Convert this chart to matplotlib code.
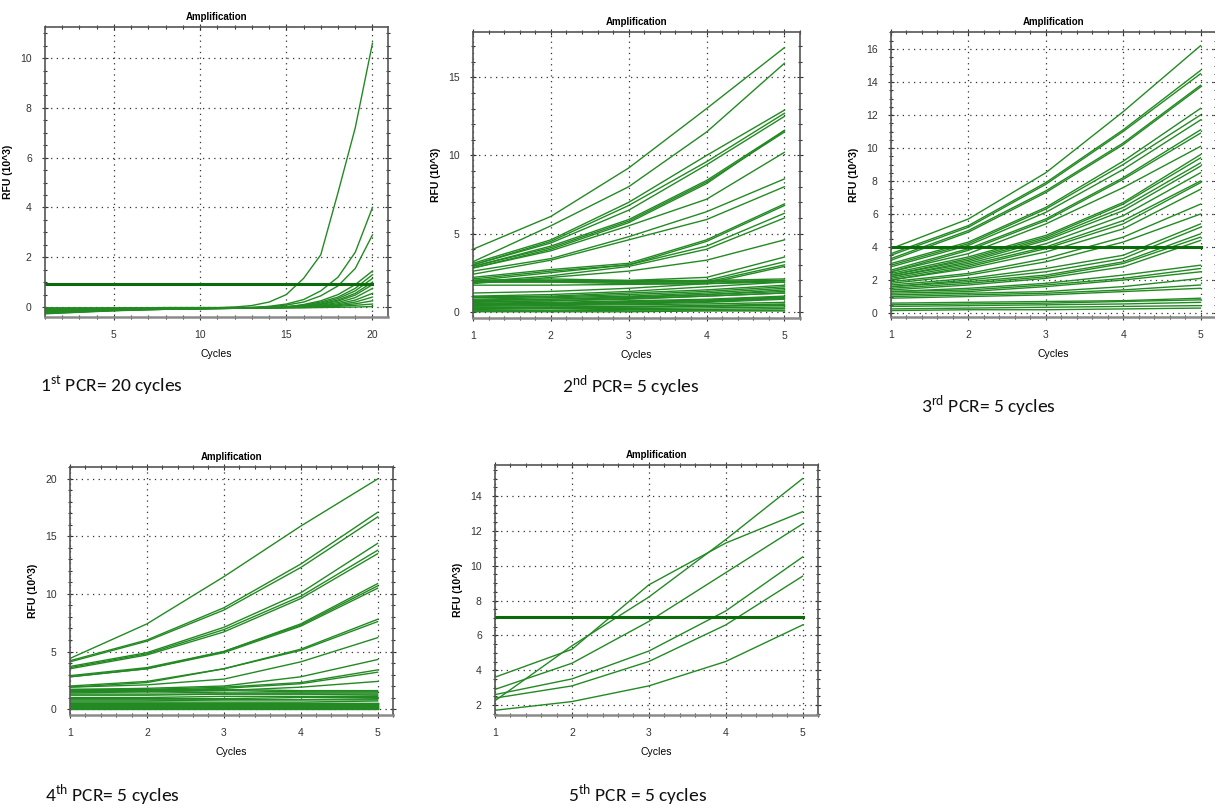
#!/usr/bin/env python3
"""Amplification curves for five successive PCR rounds (RFU vs cycle)."""
import matplotlib

matplotlib.use("Agg")
import matplotlib.pyplot as plt
from matplotlib import font_manager
from matplotlib.ticker import MultipleLocator

_installed = {f.name for f in font_manager.fontManager.ttflist}
NARROW = "Liberation Sans Narrow" if "Liberation Sans Narrow" in _installed else "Liberation Sans"
CAPTION = "Carlito" if "Carlito" in _installed else "Open Sans"

plt.rcParams["mathtext.fontset"] = "custom"
plt.rcParams["mathtext.rm"] = CAPTION

LINE_GREEN = "#238a23"
THRESH_GREEN = "#0b6b0b"

# ---- 1st PCR: 20 cycles -------------------------------------------------
pcr1_cycles = list(range(1, 21))
pcr1_rfu = [
    [-0.14, -0.13, -0.12, -0.11, -0.10, -0.09, -0.08, -0.07, -0.06, -0.05, -0.03, 0.00, 0.06, 0.20, 0.50, 1.15, 2.10, 4.60, 7.20, 10.60],
    [-0.20, -0.18, -0.16, -0.14, -0.12, -0.10, -0.09, -0.08, -0.07, -0.06, -0.05, -0.04, -0.02, 0.03, 0.12, 0.30, 0.65, 1.20, 2.20, 4.00],
    [-0.10, -0.09, -0.09, -0.08, -0.08, -0.07, -0.07, -0.06, -0.06, -0.05, -0.05, -0.04, -0.03, 0.00, 0.08, 0.20, 0.45, 0.85, 1.55, 2.90],
    [-0.24, -0.22, -0.19, -0.16, -0.14, -0.12, -0.10, -0.09, -0.08, -0.07, -0.06, -0.05, -0.04, -0.03, 0.00, 0.10, 0.25, 0.50, 0.90, 1.45],
    [-0.05, -0.05, -0.05, -0.05, -0.04, -0.04, -0.04, -0.04, -0.03, -0.03, -0.03, -0.02, -0.02, -0.01, 0.02, 0.08, 0.20, 0.40, 0.75, 1.30],
    [-0.18, -0.16, -0.14, -0.12, -0.10, -0.09, -0.08, -0.07, -0.06, -0.05, -0.05, -0.04, -0.03, -0.02, 0.00, 0.06, 0.16, 0.34, 0.65, 1.15],
    [-0.27, -0.24, -0.21, -0.18, -0.15, -0.13, -0.11, -0.09, -0.08, -0.07, -0.06, -0.05, -0.04, -0.03, -0.01, 0.04, 0.12, 0.28, 0.55, 1.00],
    [-0.12, -0.11, -0.10, -0.09, -0.08, -0.07, -0.06, -0.05, -0.05, -0.04, -0.04, -0.03, -0.03, -0.02, -0.01, 0.03, 0.10, 0.24, 0.48, 0.90],
    [-0.08, -0.08, -0.07, -0.07, -0.06, -0.06, -0.05, -0.05, -0.04, -0.04, -0.03, -0.03, -0.03, -0.02, -0.01, 0.02, 0.07, 0.18, 0.38, 0.75],
    [-0.22, -0.20, -0.18, -0.15, -0.13, -0.11, -0.10, -0.09, -0.08, -0.07, -0.06, -0.05, -0.04, -0.03, -0.02, 0.00, 0.05, 0.13, 0.28, 0.55],
    [-0.16, -0.15, -0.13, -0.12, -0.10, -0.09, -0.08, -0.07, -0.06, -0.05, -0.05, -0.04, -0.04, -0.03, -0.02, -0.01, 0.03, 0.09, 0.20, 0.40],
    [-0.03, -0.03, -0.03, -0.03, -0.03, -0.03, -0.03, -0.02, -0.02, -0.02, -0.02, -0.02, -0.02, -0.01, -0.01, 0.00, 0.02, 0.06, 0.13, 0.25],
    [-0.26, -0.23, -0.20, -0.17, -0.14, -0.12, -0.10, -0.09, -0.08, -0.07, -0.06, -0.05, -0.05, -0.04, -0.03, -0.02, 0.00, 0.03, 0.07, 0.12],
    [-0.15, -0.14, -0.12, -0.11, -0.10, -0.09, -0.08, -0.07, -0.06, -0.06, -0.05, -0.05, -0.04, -0.04, -0.03, -0.03, -0.02, -0.01, 0.00, 0.02],
]
pcr1_threshold = 0.92

# ---- 2nd..5th PCR: 5 cycles each -----------------------------------------
short_cycles = [1, 2, 3, 4, 5]

pcr2_rfu = [
    [4.0, 6.1, 9.2, 13.0, 16.9],
    [3.2, 5.5, 8.0, 11.5, 15.9],
    [3.1, 4.6, 7.0, 10.0, 12.9],
    [3.0, 4.5, 6.8, 9.6, 12.7],
    [3.0, 4.4, 6.5, 9.4, 12.5],
    [2.9, 4.2, 5.9, 8.4, 11.6],
    [2.9, 4.1, 5.8, 8.3, 11.5],
    [2.8, 4.0, 5.7, 8.2, 11.6],
    [2.8, 3.9, 5.5, 7.2, 10.2],
    [2.6, 3.4, 4.8, 6.4, 8.5],
    [2.4, 3.3, 4.6, 5.9, 8.0],
    [2.2, 2.7, 3.1, 4.6, 6.9],
    [2.1, 2.6, 3.0, 4.5, 6.8],
    [2.0, 2.5, 3.0, 4.2, 6.3],
    [1.9, 2.3, 2.9, 4.0, 6.0],
    [1.8, 2.2, 2.6, 3.3, 4.6],
    [2.0, 2.1, 2.0, 2.2, 3.5],
    [2.0, 2.0, 1.9, 2.0, 3.2],
    [1.9, 2.0, 1.9, 1.9, 3.0],
    [1.9, 1.9, 1.8, 1.8, 2.9],
    [2.0, 2.0, 2.0, 2.0, 2.1],
    [1.95, 1.95, 1.95, 1.95, 2.0],
    [1.9, 1.9, 1.9, 1.9, 2.0],
    [1.7, 1.7, 1.75, 1.8, 1.9],
    [1.2, 1.3, 1.5, 1.8, 2.0],
    [1.0, 1.1, 1.3, 1.6, 1.9],
    [0.95, 1.0, 1.2, 1.4, 1.7],
    [0.9, 0.95, 1.1, 1.3, 1.6],
    [0.8, 0.9, 1.0, 1.2, 1.5],
    [0.75, 0.8, 0.95, 1.1, 1.4],
    [0.7, 0.8, 0.9, 1.1, 1.3],
    [0.65, 0.7, 0.85, 1.0, 1.2],
    [0.6, 0.7, 0.8, 1.0, 1.2],
    [0.55, 0.6, 0.7, 0.8, 1.0],
    [0.5, 0.55, 0.65, 0.75, 0.95],
    [0.5, 0.5, 0.6, 0.7, 0.9],
    [0.45, 0.5, 0.55, 0.65, 0.85],
    [0.4, 0.45, 0.5, 0.6, 0.8],
    [0.35, 0.4, 0.45, 0.5, 0.6],
    [0.3, 0.3, 0.35, 0.4, 0.5],
    [0.25, 0.3, 0.3, 0.35, 0.45],
    [0.2, 0.25, 0.3, 0.35, 0.4],
    [0.15, 0.2, 0.2, 0.25, 0.3],
    [0.1, 0.1, 0.15, 0.15, 0.2],
    [0.05, 0.05, 0.1, 0.1, 0.1],
    [0.0, 0.0, 0.0, 0.05, 0.05],
]

pcr3_rfu = [
    [3.9, 5.7, 8.5, 12.2, 16.2],
    [3.6, 5.3, 7.9, 11.1, 14.7],
    [3.5, 5.2, 7.8, 11.0, 14.5],
    [3.3, 5.0, 7.4, 10.3, 13.8],
    [3.2, 4.9, 7.3, 10.2, 13.7],
    [3.0, 4.3, 6.4, 9.2, 12.4],
    [2.9, 4.2, 6.3, 9.0, 12.0],
    [2.8, 4.1, 6.1, 8.7, 11.7],
    [2.6, 3.9, 5.7, 8.2, 11.1],
    [2.5, 3.8, 5.6, 8.1, 10.9],
    [2.5, 3.6, 5.4, 7.6, 10.1],
    [2.4, 3.4, 4.7, 6.7, 9.6],
    [2.3, 3.3, 4.6, 6.6, 9.4],
    [2.3, 3.2, 4.5, 6.4, 9.1],
    [2.2, 3.1, 4.4, 6.2, 8.9],
    [2.2, 3.0, 4.2, 5.9, 8.5],
    [2.1, 2.9, 4.0, 5.6, 8.0],
    [2.0, 2.8, 3.9, 5.4, 7.9],
    [2.0, 2.7, 3.7, 5.1, 7.5],
    [1.9, 2.4, 3.3, 4.6, 6.6],
    [1.8, 2.3, 3.1, 4.3, 6.0],
    [1.7, 2.1, 2.7, 3.5, 5.4],
    [1.6, 2.0, 2.5, 3.3, 5.2],
    [1.6, 1.9, 2.3, 3.1, 4.8],
    [1.5, 1.8, 2.2, 3.0, 4.6],
    [1.4, 1.7, 2.1, 2.8, 4.4],
    [1.3, 1.5, 1.8, 2.3, 2.9],
    [1.3, 1.4, 1.7, 2.1, 2.7],
    [1.2, 1.3, 1.6, 2.0, 2.5],
    [1.1, 1.2, 1.3, 1.6, 2.1],
    [1.0, 1.1, 1.2, 1.4, 1.7],
    [0.9, 1.0, 1.1, 1.3, 1.5],
    [0.6, 0.65, 0.7, 0.75, 0.9],
    [0.5, 0.55, 0.6, 0.7, 0.8],
    [0.4, 0.45, 0.5, 0.55, 0.65],
    [0.25, 0.3, 0.35, 0.4, 0.45],
    [0.15, 0.2, 0.2, 0.25, 0.3],
]
pcr3_threshold = 4.0

pcr4_rfu = [
    [4.4, 7.4, 11.5, 15.9, 20.0],
    [4.2, 6.0, 8.8, 12.6, 17.1],
    [4.1, 5.9, 8.6, 12.3, 16.7],
    [3.7, 4.9, 7.1, 10.1, 14.4],
    [3.6, 4.8, 6.9, 9.8, 13.8],
    [3.5, 4.7, 6.7, 9.6, 13.5],
    [2.9, 3.6, 5.0, 7.4, 10.9],
    [2.8, 3.5, 5.0, 7.3, 10.7],
    [2.8, 3.5, 4.9, 7.2, 10.5],
    [2.0, 2.4, 3.5, 5.2, 7.8],
    [1.9, 2.3, 3.5, 5.1, 7.6],
    [1.9, 2.1, 2.6, 4.1, 6.2],
    [1.7, 1.8, 2.0, 2.8, 4.3],
    [1.6, 1.7, 1.9, 2.3, 3.4],
    [1.5, 1.6, 1.8, 2.2, 3.2],
    [1.4, 1.5, 1.6, 1.9, 2.4],
    [1.7, 1.7, 1.7, 1.6, 1.6],
    [1.6, 1.6, 1.6, 1.5, 1.5],
    [1.5, 1.5, 1.4, 1.4, 1.4],
    [1.3, 1.3, 1.3, 1.3, 1.2],
    [1.2, 1.2, 1.3, 1.3, 1.3],
    [1.0, 1.0, 1.1, 1.1, 1.1],
    [0.9, 0.9, 0.9, 1.0, 1.0],
    [0.8, 0.8, 0.8, 0.8, 0.9],
    [0.7, 0.7, 0.8, 0.8, 0.8],
    [0.6, 0.6, 0.6, 0.6, 0.7],
    [0.55, 0.55, 0.55, 0.55, 0.55],
    [0.5, 0.5, 0.5, 0.5, 0.5],
    [0.45, 0.45, 0.45, 0.45, 0.45],
    [0.4, 0.4, 0.4, 0.4, 0.4],
    [0.35, 0.35, 0.35, 0.35, 0.35],
    [0.3, 0.3, 0.3, 0.3, 0.3],
    [0.25, 0.25, 0.25, 0.25, 0.25],
    [0.2, 0.2, 0.2, 0.2, 0.2],
    [0.15, 0.15, 0.15, 0.15, 0.15],
    [0.1, 0.1, 0.1, 0.1, 0.1],
    [0.05, 0.05, 0.05, 0.05, 0.05],
    [0.0, 0.0, 0.0, 0.0, 0.0],
]

pcr5_rfu = [
    [2.25, 5.4, 8.2, 11.5, 15.0],
    [3.6, 5.2, 8.9, 11.3, 13.1],
    [2.9, 4.4, 6.8, 9.6, 12.4],
    [2.6, 3.5, 5.1, 7.4, 10.5],
    [2.4, 3.1, 4.5, 6.6, 9.4],
    [1.7, 2.2, 3.1, 4.5, 6.6],
]
pcr5_threshold = 7.05

captions = [
    r"1$^{\mathrm{st}}$ PCR= 20 cycles",
    r"2$^{\mathrm{nd}}$ PCR= 5 cycles",
    r"3$^{\mathrm{rd}}$ PCR= 5 cycles",
    r"4$^{\mathrm{th}}$ PCR= 5 cycles",
    r"5$^{\mathrm{th}}$ PCR = 5 cycles",
]

W, H = 1215, 810


def px_axes(fig, left, top, right, bottom):
    """Add axes from pixel box (origin top-left)."""
    return fig.add_axes([left / W, 1 - bottom / H, (right - left) / W, (bottom - top) / H])


def style(ax, xlim, ylim, xmajor, xminor, ymajor, yminor, xticks=None):
    ax.set_xlim(*xlim)
    ax.set_ylim(*ylim)
    if xticks is not None:
        ax.set_xticks(xticks)
    else:
        ax.xaxis.set_major_locator(MultipleLocator(xmajor))
    ax.xaxis.set_minor_locator(MultipleLocator(xminor))
    ax.yaxis.set_major_locator(MultipleLocator(ymajor))
    ax.yaxis.set_minor_locator(MultipleLocator(yminor))
    ax.grid(True, which="major", color="#333333", linestyle=(0, (1, 3.5)), linewidth=0.9)
    ax.tick_params(which="both", direction="inout", top=True, right=True,
                   colors="#333333", labelsize=7.5, width=0.8)
    ax.tick_params(which="major", length=5, pad=7)
    ax.tick_params(which="minor", length=3)
    for lab in ax.get_xticklabels() + ax.get_yticklabels():
        lab.set_fontfamily(NARROW)
    for side in ("left", "top", "right"):
        ax.spines[side].set_color("#555555")
        ax.spines[side].set_linewidth(1.2)
    ax.spines["bottom"].set_color("#8a8a8a")
    ax.spines["bottom"].set_linewidth(1.8)
    ax.set_title("Amplification", fontsize=7, fontweight="bold", family=NARROW, pad=5)
    ax.set_ylabel("RFU (10^3)", fontsize=7.5, fontweight="bold", family="Liberation Sans", labelpad=5)
    ax.set_xlabel("Cycles", fontsize=7.5, family=NARROW, labelpad=6)


def draw(ax, cycles, curves, threshold=None):
    for ys in curves:
        ax.plot(cycles, ys, color=LINE_GREEN, linewidth=1.0, solid_joinstyle="round")
    if threshold is not None:
        ax.plot([cycles[0], cycles[-1]], [threshold, threshold], color=THRESH_GREEN, linewidth=2.2)


fig = plt.figure(figsize=(W / 100, H / 100), dpi=100)

ax1 = px_axes(fig, 45, 27, 388, 317)
draw(ax1, pcr1_cycles, pcr1_rfu, pcr1_threshold)
style(ax1, (1, 20.9), (-0.4, 11.25), 5, 1, 2, 0.5, xticks=[5, 10, 15, 20])

ax2 = px_axes(fig, 473, 32, 800, 318)
draw(ax2, short_cycles, pcr2_rfu)
style(ax2, (1, 5.2), (-0.4, 17.9), 1, 0.2, 5, 1)

ax3 = px_axes(fig, 891, 32, 1216, 317)
draw(ax3, short_cycles, pcr3_rfu, pcr3_threshold)
style(ax3, (1, 5.2), (-0.24, 17.03), 1, 0.2, 2, 0.5)

ax4 = px_axes(fig, 70, 467, 393, 715)
draw(ax4, short_cycles, pcr4_rfu)
style(ax4, (1, 5.2), (-0.52, 21.04), 1, 0.2, 5, 1)

ax5 = px_axes(fig, 495, 465, 818, 715)
draw(ax5, short_cycles, pcr5_rfu, pcr5_threshold)
style(ax5, (1, 5.2), (1.43, 15.78), 1, 0.2, 2, 0.5)

# panel captions (pixel anchors: left edge, vertical centre)
caption_pos = [(40, 386), (562, 386), (921, 406), (45, 795), (568, 795)]
for text, (x, y) in zip(captions, caption_pos):
    fig.text(x / W, 1 - y / H, text, fontsize=14, family=CAPTION, ha="left", va="center", color="#111111")

fig.savefig("out.png", dpi=100)
